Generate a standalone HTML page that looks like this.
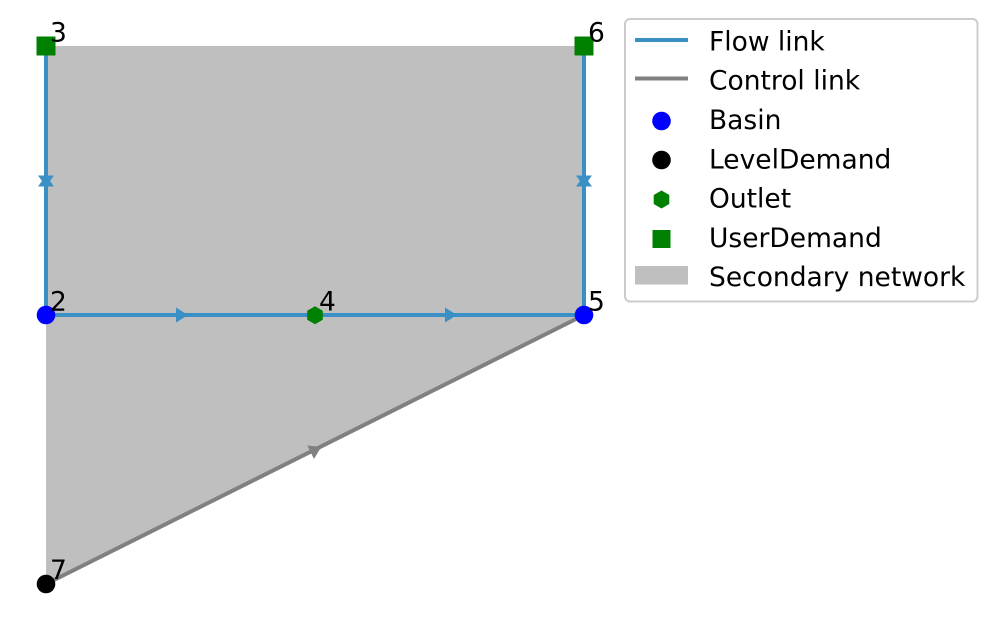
<!DOCTYPE html>
<html>
<head>
<meta charset="utf-8">
<style>
  html, body { margin:0; padding:0; background:#ffffff; }
  svg { display:block; }
  text { font-family: "DejaVu Sans", "Liberation Sans", sans-serif; font-size:26.5px; fill:#000; }
</style>
</head>
<body>
<svg width="996" height="630" viewBox="0 0 996 630" xmlns="http://www.w3.org/2000/svg">
  <!-- Secondary network polygon -->
  <polygon points="46,46 584,46 584,315 46,584" fill="#bfbfbf"/>

  <!-- Flow links -->
  <g stroke="#3a90c4" stroke-width="4" fill="none" stroke-linecap="butt">
    <line x1="46" y1="46" x2="46" y2="315"/>
    <line x1="584" y1="46" x2="584" y2="315"/>
    <line x1="46" y1="315" x2="315" y2="315"/>
    <line x1="315" y1="315" x2="584" y2="315"/>
  </g>
  <!-- Flow arrows -->
  <g fill="#3a90c4">
    <polygon points="176,307.5 188,315 176,322.5"/>
    <polygon points="445,307.5 457,315 445,322.5"/>
    <!-- vertical double arrows -->
    <polygon points="38,186.5 46,175.5 54,186.5"/>
    <polygon points="38,175.5 46,186.5 54,175.5"/>
    <polygon points="576,186.5 584,175.5 592,186.5"/>
    <polygon points="576,175.5 584,186.5 592,175.5"/>
  </g>

  <!-- Control link -->
  <line x1="46" y1="584" x2="584" y2="315" stroke="#808080" stroke-width="4"/>
  <polygon points="-6,-7.5 6,0 -6,7.5" fill="#808080" transform="translate(316,449.5) rotate(-26.57)"/>

  <!-- Nodes -->
  <rect x="37" y="37" width="18" height="18" fill="#008000" stroke="#008000" stroke-width="1" stroke-linejoin="round"/>
  <rect x="575" y="37" width="18" height="18" fill="#008000" stroke="#008000" stroke-width="1" stroke-linejoin="round"/>
  <circle cx="46" cy="315" r="9.3" fill="#0000ff"/>
  <circle cx="584" cy="315" r="9.3" fill="#0000ff"/>
  <polygon points="315,306.3 322.8,310.8 322.8,319.8 315,324.3 307.2,319.8 307.2,310.8" fill="#008000"/>
  <circle cx="46" cy="584" r="9.3" fill="#000000"/>

  <!-- Node labels -->
  <text x="50" y="41.5">3</text>
  <text x="588" y="41.5">6</text>
  <text x="50" y="310.5">2</text>
  <text x="319" y="310.5">4</text>
  <text x="588" y="310.5">5</text>
  <text x="50" y="579">7</text>

  <!-- Legend -->
  <rect x="625" y="19" width="352.5" height="282.5" rx="5" ry="5" fill="#ffffff" fill-opacity="0.8" stroke="#cccccc" stroke-width="2"/>
  <line x1="635" y1="40" x2="688" y2="40" stroke="#3a90c4" stroke-width="4"/>
  <line x1="635" y1="78.5" x2="688" y2="78.5" stroke="#808080" stroke-width="4"/>
  <circle cx="661.5" cy="121" r="9.3" fill="#0000ff"/>
  <circle cx="661.5" cy="160" r="9.3" fill="#000000"/>
  <polygon points="661.5,190.5 669.3,195 669.3,204 661.5,208.5 653.7,204 653.7,195" fill="#008000"/>
  <rect x="652.5" y="230" width="18" height="18" fill="#008000"/>
  <rect x="635" y="266" width="53" height="18.5" fill="#bfbfbf"/>

  <text x="709" y="50.5">Flow link</text>
  <text x="709" y="89.5">Control link</text>
  <text x="709" y="129">Basin</text>
  <text x="709" y="168.5">LevelDemand</text>
  <text x="709" y="207.5">Outlet</text>
  <text x="709" y="247">UserDemand</text>
  <text x="709" y="286">Secondary network</text>
</svg>
</body>
</html>
